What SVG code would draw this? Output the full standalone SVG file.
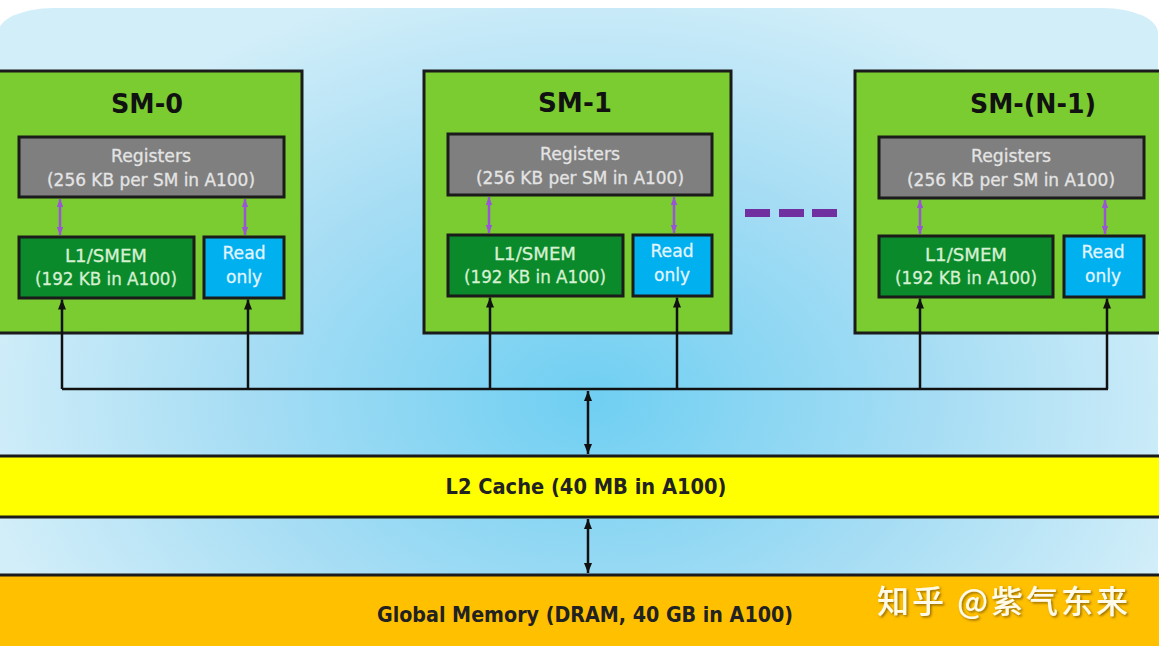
<svg xmlns="http://www.w3.org/2000/svg" width="1159" height="646" viewBox="0 0 1159 646">
<defs>
<radialGradient id="bg" gradientUnits="userSpaceOnUse" cx="590" cy="400" r="620" gradientTransform="translate(590 400) scale(1 0.7) translate(-590 -400)">
<stop offset="0" stop-color="#6fcff2"/>
<stop offset="0.55" stop-color="#a6ddf4"/>
<stop offset="1" stop-color="#d2eef9"/>
</radialGradient>
<filter id="sh" x="-10%" y="-30%" width="120%" height="160%">
<feDropShadow dx="1.5" dy="1.5" stdDeviation="0.8" flood-color="#6a4a00" flood-opacity="0.7"/>
</filter>
<marker id="ah" markerUnits="userSpaceOnUse" markerWidth="10" markerHeight="10" viewBox="0 0 10 10" refX="10" refY="5" orient="auto-start-reverse">
<path d="M0,1 L10,5 L0,9 Z" fill="#111"/>
</marker>
<marker id="ap" markerUnits="userSpaceOnUse" markerWidth="8" markerHeight="8" viewBox="0 0 10 10" refX="10" refY="5" orient="auto-start-reverse">
<path d="M0,1 L10,5 L0,9 Z" fill="#9a55d6"/>
</marker>
<style>
.sm{fill:#7acc31;stroke:#1b1b1b;stroke-width:3}
.reg{fill:#7f7f7f;stroke:#1b1b1b;stroke-width:3}
.l1{fill:#0b8a2b;stroke:#1b1b1b;stroke-width:3}
.ro{fill:#00b0ef;stroke:#1b1b1b;stroke-width:3}
.title{font-family:"DejaVu Sans",Verdana,sans-serif;font-weight:bold;font-size:27px;fill:#111;text-anchor:middle}
.t{font-family:"DejaVu Sans",Verdana,sans-serif;font-size:17.5px;text-anchor:middle;stroke-width:0.3}
.tr{fill:#e4e4e4;stroke:#e4e4e4}
.tl{fill:#d6f0d2;stroke:#d6f0d2}
.to{fill:#e2f5ff;stroke:#e2f5ff}
.pa{stroke:#9a55d6;stroke-width:2.5;fill:none;marker-start:url(#ap);marker-end:url(#ap)}
.ba{stroke:#111;stroke-width:2.5;fill:none}
.band{stroke:#1b1b1b;stroke-width:3}
.bt{font-family:"DejaVu Sans",Verdana,sans-serif;font-weight:bold;font-size:22px;fill:#222;text-anchor:middle}
</style>
</defs>
<rect x="0" y="0" width="1159" height="646" fill="#ffffff"/>
<rect x="-2" y="8" width="1160" height="700" rx="55" ry="25" fill="url(#bg)"/>

<g id="sm-0">
<rect class="sm" x="-2" y="71" width="304" height="262"/>
<text class="title" x="147" y="113" textLength="72" lengthAdjust="spacingAndGlyphs">SM-0</text>
<rect class="reg" x="19" y="137" width="265" height="60"/>
<text class="t tr" x="151" y="162" textLength="80" lengthAdjust="spacingAndGlyphs">Registers</text>
<text class="t tr" x="151" y="186" textLength="208" lengthAdjust="spacingAndGlyphs">(256 KB per SM in A100)</text>
<rect class="l1" x="19" y="237" width="175" height="61"/>
<text class="t tl" x="106" y="262" textLength="82" lengthAdjust="spacingAndGlyphs">L1/SMEM</text>
<text class="t tl" x="106" y="285" textLength="142" lengthAdjust="spacingAndGlyphs">(192 KB in A100)</text>
<rect class="ro" x="204" y="237" width="80" height="61"/>
<text class="t to" x="244" y="259" textLength="43" lengthAdjust="spacingAndGlyphs">Read</text>
<text class="t to" x="244" y="283" textLength="36" lengthAdjust="spacingAndGlyphs">only</text>
</g>

<g id="sm-1">
<rect class="sm" x="424" y="71" width="307" height="262"/>
<text class="title" x="575" y="112" textLength="74" lengthAdjust="spacingAndGlyphs">SM-1</text>
<rect class="reg" x="448" y="134" width="264" height="61"/>
<text class="t tr" x="580" y="160" textLength="80" lengthAdjust="spacingAndGlyphs">Registers</text>
<text class="t tr" x="580" y="184" textLength="208" lengthAdjust="spacingAndGlyphs">(256 KB per SM in A100)</text>
<rect class="l1" x="448" y="235" width="175" height="61"/>
<text class="t tl" x="535" y="260" textLength="82" lengthAdjust="spacingAndGlyphs">L1/SMEM</text>
<text class="t tl" x="535" y="283" textLength="142" lengthAdjust="spacingAndGlyphs">(192 KB in A100)</text>
<rect class="ro" x="633" y="235" width="79" height="61"/>
<text class="t to" x="672" y="257" textLength="43" lengthAdjust="spacingAndGlyphs">Read</text>
<text class="t to" x="672" y="281" textLength="36" lengthAdjust="spacingAndGlyphs">only</text>
</g>

<g id="sm-n1">
<rect class="sm" x="855" y="71" width="310" height="262"/>
<text class="title" x="1033" y="113" textLength="126" lengthAdjust="spacingAndGlyphs">SM-(N-1)</text>
<rect class="reg" x="879" y="137" width="265" height="61"/>
<text class="t tr" x="1011" y="162" textLength="80" lengthAdjust="spacingAndGlyphs">Registers</text>
<text class="t tr" x="1011" y="186" textLength="208" lengthAdjust="spacingAndGlyphs">(256 KB per SM in A100)</text>
<rect class="l1" x="879" y="236" width="174" height="61"/>
<text class="t tl" x="966" y="261" textLength="82" lengthAdjust="spacingAndGlyphs">L1/SMEM</text>
<text class="t tl" x="966" y="284" textLength="142" lengthAdjust="spacingAndGlyphs">(192 KB in A100)</text>
<rect class="ro" x="1064" y="236" width="80" height="61"/>
<text class="t to" x="1103" y="258" textLength="43" lengthAdjust="spacingAndGlyphs">Read</text>
<text class="t to" x="1103" y="282" textLength="36" lengthAdjust="spacingAndGlyphs">only</text>
</g>

<g id="ellipsis">
<path d="M745,213 H770 M779,213 H804 M812,213 H837" stroke="#7030a0" stroke-width="8" fill="none"/>
</g>

<g id="l2">
<rect class="band" x="-3" y="456" width="1166" height="61" fill="#ffff00"/>
<text class="bt" x="586" y="494" textLength="281" lengthAdjust="spacingAndGlyphs">L2 Cache (40 MB in A100)</text>
</g>

<g id="global">
<rect class="band" x="-3" y="575" width="1166" height="80" fill="#ffc000"/>
<text class="bt" x="585" y="622" textLength="416" lengthAdjust="spacingAndGlyphs">Global Memory (DRAM, 40 GB in A100)</text>
</g>

<g id="connectors">
<path class="pa" d="M60,199 V235"/>
<path class="pa" d="M245,199 V235"/>
<path class="pa" d="M489,197 V233"/>
<path class="pa" d="M674,197 V233"/>
<path class="pa" d="M920,200 V234"/>
<path class="pa" d="M1105,200 V234"/>
<path class="ba" d="M62,389 H1108"/>
<path class="ba" d="M62,389 V299.5" marker-end="url(#ah)"/>
<path class="ba" d="M248,389 V299.5" marker-end="url(#ah)"/>
<path class="ba" d="M490,389 V297.5" marker-end="url(#ah)"/>
<path class="ba" d="M677,389 V297.5" marker-end="url(#ah)"/>
<path class="ba" d="M920,389 V298.5" marker-end="url(#ah)"/>
<path class="ba" d="M1107,389 V298.5" marker-end="url(#ah)"/>
<path class="ba" d="M588,391 V454" marker-start="url(#ah)" marker-end="url(#ah)"/>
<path class="ba" d="M588,519 V573" marker-start="url(#ah)" marker-end="url(#ah)"/>
</g>

<text x="877" y="613" font-family="Noto Sans CJK SC, sans-serif" font-size="32" font-weight="500" fill="#fffbe8" filter="url(#sh)" textLength="251">知乎 @紫气东来</text>
</svg>
